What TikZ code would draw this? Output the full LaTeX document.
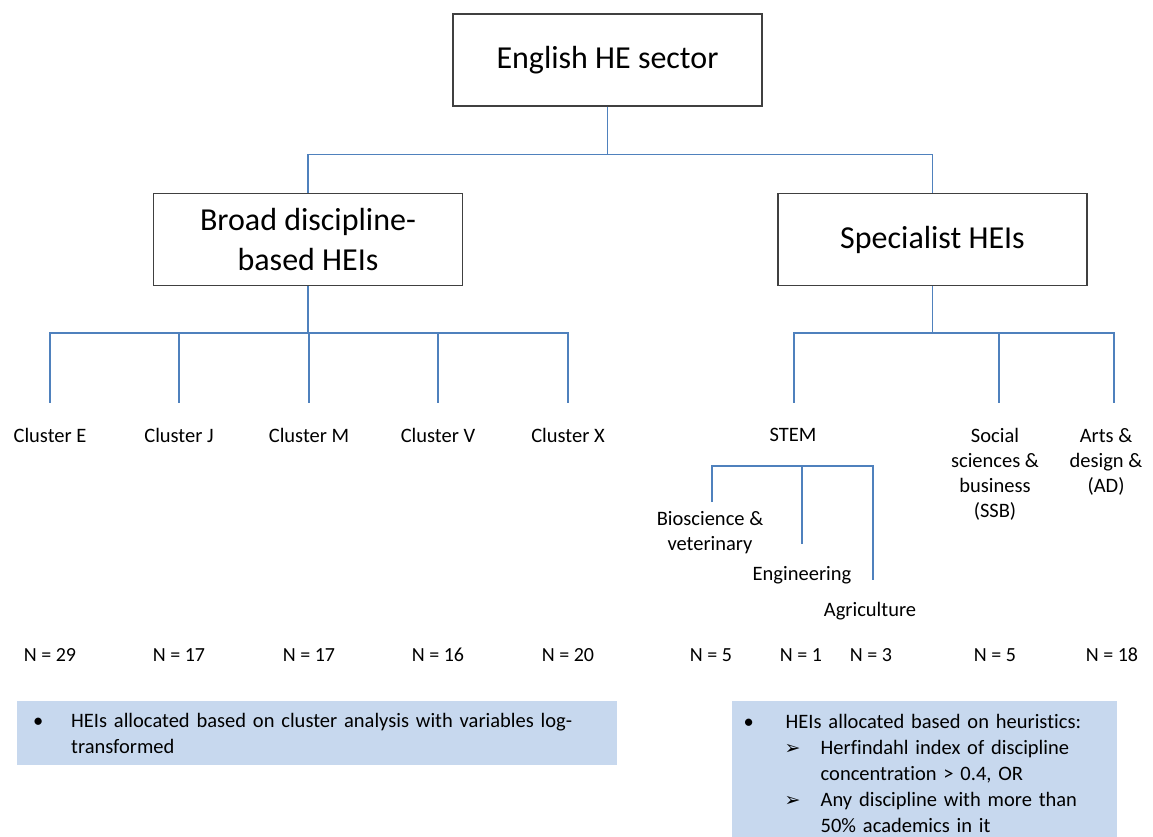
\documentclass[tikz,border=0pt]{standalone}
\usepackage{fontspec}
\setmainfont{Carlito}[Ligatures=NoCommon]
\newfontfamily\symfont{DejaVu Sans}
\usetikzlibrary{positioning}
\definecolor{linkblue}{RGB}{79,129,189}
\definecolor{notefill}{RGB}{199,216,238}
\definecolor{boxline}{RGB}{64,64,64}

\begin{document}
\begin{tikzpicture}[x=1pt, y=-1pt,
    levelbox/.style={draw=boxline, line width=1.2pt, minimum width=309pt, minimum height=92pt,
        align=center, font=\fontsize{32}{40}\selectfont},
    link/.style={draw=linkblue, line width=1.4pt},
    leaf/.style={anchor=north, align=center, inner sep=0pt, font=\fontsize{20.5}{25}\selectfont},
    count/.style={inner sep=0pt, font=\fontsize{20}{24}\selectfont},
    note/.style={fill=notefill, anchor=north west, inner sep=0pt, align=left,
        font=\fontsize{20.5}{26}\selectfont}]

    % page frame = reference proportions
    \useasboundingbox (0,0) rectangle (1153,837);

    % Top level boxes
    \node[levelbox] (sector) at (607.5,60) {English HE sector};
    \node[levelbox] (broad) at (308,239.5) {Broad discipline-\\based HEIs};
    \node[levelbox] (special) at (932.5,239.5) {Specialist HEIs};
    \draw[link] (sector.south) -- ++(0,48) -| (broad.north);
    \draw[link] (sector.south) -- ++(0,48) -| (special.north);

    % Clusters under the broad HEIs
    \foreach \x/\c in {50/E, 179/J, 309/M, 438/V, 568/X} {
        \coordinate (end\c) at (\x,403);
        \node[leaf] (cluster\c) at (\x,428) {Cluster \c};
        \draw[link] (broad.south) -- ++(0,47) -| (end\c);
    }

    % Specialist groups
    \coordinate (endStem) at (794,403);
    \coordinate (endSsb) at (999,403);
    \coordinate (endAd) at (1114,403);
    \node[leaf] (stem) at (793,428) {STEM};
    \node[leaf] (ssb) at (995,428) {Social\\sciences \&\\business\\(SSB)};
    \node[leaf] (ad) at (1106,428) {Arts \&\\design \&\\(AD)};
    \foreach \e in {endStem, endSsb, endAd}
        \draw[link] (special.south) -- ++(0,47) -| (\e);

    % STEM split -- labels hang below the line ends
    \def\stemY{466}
    \coordinate (endBio) at (712,502);
    \coordinate (endEng) at (802,544);
    \coordinate (endAgri) at (873,580);
    \node[leaf] (bio) at (710,511) {Bioscience \&\\veterinary};
    \node[leaf] (eng) at (802,566) {Engineering};
    \node[leaf] (agri) at (870,602) {Agriculture};
    \draw[link] (endBio) -- (endBio |- 0,\stemY) -| (endAgri);
    \draw[link] (endEng) -- (endEng |- 0,\stemY);

    % Counts
    \foreach \x/\n [count=\i] in {50/29, 179/17, 309/17, 438/16, 568/20,
                                  711/5, 801/1, 871/3, 995/5, 1112/18}
        \node[count] (count\i) at (\x,655) {N = \n};

    % Notes
    \node[note, minimum width=600pt, minimum height=64pt, text width=590pt]
        (broadnote) at (17,701)
        {\noindent\hspace*{11pt}\makebox[38pt][l]{\textbullet}HEIs allocated based on cluster analysis with variables log-\\
         \hspace*{49pt}transformed};
    \node[note, minimum width=385pt, minimum height=144pt, text width=380pt]
        (specialnote) at (732,701)
        {\noindent\hspace*{9pt}\makebox[42pt][l]{\textbullet}HEIs allocated based on heuristics:\\
         \hspace*{50pt}\makebox[36pt][l]{\symfont\fontsize{19}{26}\selectfont ➢}Herfindahl index of discipline\\
         \hspace*{86pt}concentration > 0.4, OR\\
         \hspace*{50pt}\makebox[36pt][l]{\symfont\fontsize{19}{26}\selectfont ➢}Any discipline with more than\\
         \hspace*{86pt}50\% academics in it};
\end{tikzpicture}
\end{document}
